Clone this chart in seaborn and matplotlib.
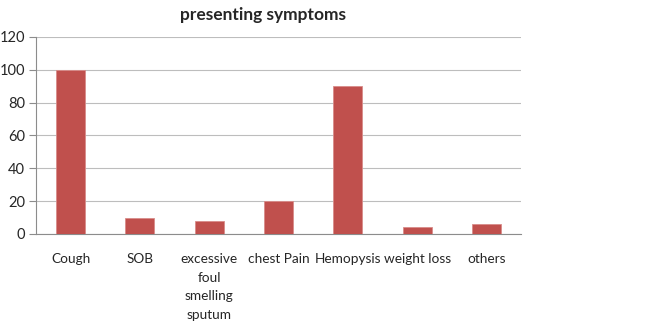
import matplotlib
matplotlib.use("Agg")
import matplotlib.pyplot as plt
import seaborn as sns
import pandas as pd
import numpy as np

#categories and counts
symptoms = ['Cough', 'SOB', 'excessive\nfoul\nsmelling\nsputum', 'chest Pain',
            'Hemopysis', 'weight loss', 'others']
counts = [100, 10, 8, 20, 90, 4, 6]

data = pd.DataFrame({'symptom': symptoms, 'count': counts})

sns.set_style("white")
plt.rcParams['font.family'] = ['Lato', 'DejaVu Sans']

fig = plt.figure(figsize=(6.46, 3.35), dpi=100)
ax = fig.add_axes([0.0557, 0.3015, 0.7508, 0.5881])

sns.barplot(x='symptom', y='count', data=data, color='#C0504D',
            saturation=1, width=0.42, ax=ax, zorder=3,
            edgecolor='#D98C8A', linewidth=0.6)

ax.set_ylim(0, 120)
ax.set_yticks(range(0, 121, 20))
ax.set_xlim(-0.5, len(symptoms) - 0.5)
ax.yaxis.grid(True, color='#BDBDBD', linewidth=0.8, zorder=0)

#tick marks between categories, like excel
ax.set_xticks(np.arange(-0.5, len(symptoms), 1.0), minor=True)
ax.tick_params(axis='x', which='major', length=0, pad=14, labelsize=9.8)
ax.tick_params(axis='x', which='minor', length=5, color='#8C8C8C', width=0.8)
ax.tick_params(axis='y', which='major', length=5, color='#8C8C8C', width=0.8,
               labelsize=10.5, left=True, pad=3)
for lab in ax.get_xticklabels():
    lab.set_linespacing(1.65)

for s in ['top', 'right']:
    ax.spines[s].set_visible(False)
for s in ['left', 'bottom']:
    ax.spines[s].set_color('#8C8C8C')
    ax.spines[s].set_linewidth(0.8)

ax.set_xlabel('')
ax.set_ylabel('')
fig.text(0.407, 0.955, 'presenting symptoms', ha='center', va='center',
         fontsize=12.5, fontweight='bold')

plt.savefig('out.png', dpi=100)
